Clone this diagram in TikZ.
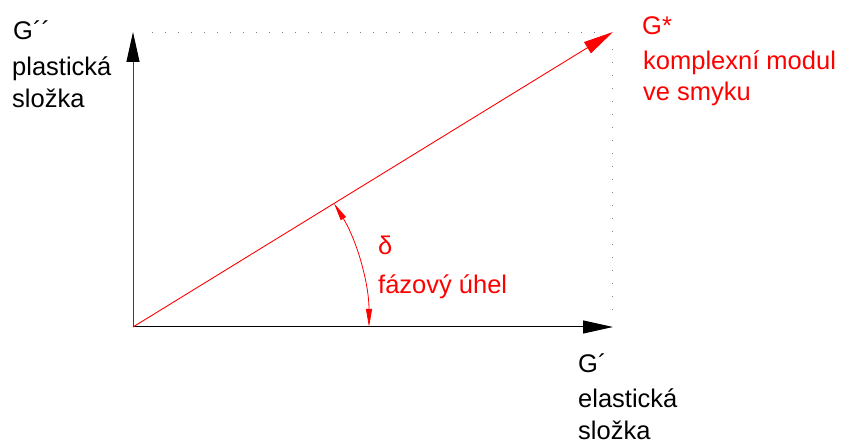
\documentclass[tikz,border=0pt]{standalone}
\usepackage{fontspec}
\setmainfont{Liberation Sans}
\usetikzlibrary{arrows.meta}
\definecolor{gred}{RGB}{255,0,0}
\tikzset{
  x=1pt,y=1pt,
  lbl/.style={inner sep=0pt, anchor=base west, font=\fontsize{25.5}{31}\selectfont},
  rlbl/.style={lbl, text=gred},
  axis/.style={line width=1pt, -{Triangle[length=30pt,width=13pt,color=black]}},
  dots/.style={gray, line width=1pt, dash pattern=on 1pt off 12pt},
}
\begin{document}
\begin{tikzpicture}
\useasboundingbox (0,0) rectangle (842,443);
\coordinate (O) at (133,116);
\coordinate (Ytop) at (133,411);
\coordinate (Xend) at (613,116);
\coordinate (Gtip) at (613,411);
\coordinate (Dh1) at (152,410);
\coordinate (Dh2) at (602,410);
\coordinate (Dv1) at (612,394);
\coordinate (Dv2) at (612,133);
% dotted guides
\draw[dots] (Dh1) -- (Dh2);
\draw[dots] (Dv1) -- (Dv2);
% axes
\draw[axis, black!75] (O) -- (Ytop);
\draw[axis, black] (O) -- (Xend);
% complex modulus vector
\draw[gred, line width=0.9pt, -{Triangle[length=30pt,width=13pt]}] (O) -- (Gtip);
% phase angle arc
\draw[gred, line width=0.8pt, {Triangle[length=18pt,width=6pt]}-{Triangle[length=18pt,width=6pt]}]
  ([shift={(31.6:236)}]O) arc[start angle=31.6, end angle=0, radius=236];
% labels
\node[lbl] (gpp) at (13,403) {G´´};
\node[lbl] (pl1) at (12,367) {plastická};
\node[lbl] (pl2) at (12,335) {složka};
\node[rlbl] (gs) at (642,408) {G*};
\node[rlbl] (gs1) at (643,373) {komplexní modul};
\node[rlbl] (gs2) at (643,342) {ve smyku};
\node[rlbl] (del) at (378,188) {δ};
\node[rlbl] (del1) at (378,149) {fázový úhel};
\node[lbl] (gp) at (578,70) {G´};
\node[lbl] (el1) at (578,35) {elastická};
\node[lbl] (el2) at (578,3) {složka};
\end{tikzpicture}
\end{document}
